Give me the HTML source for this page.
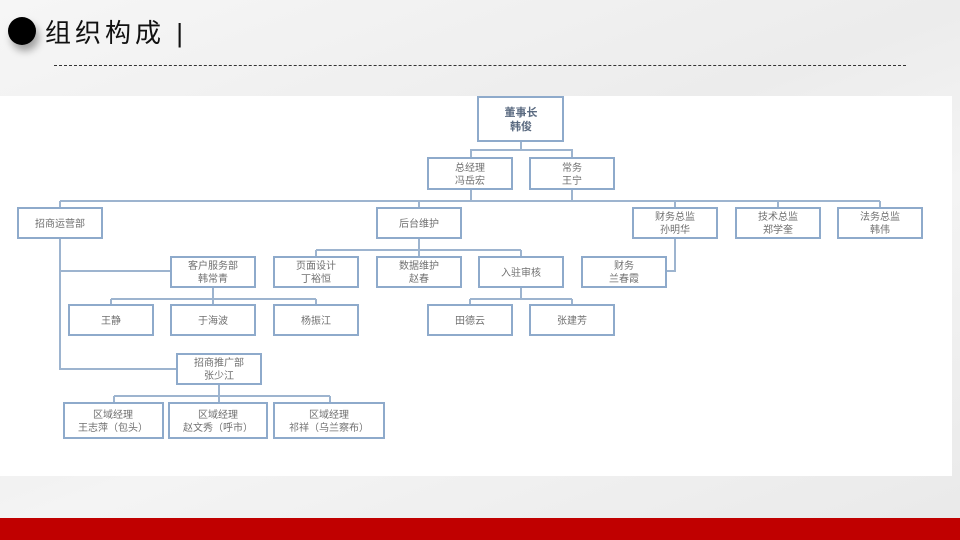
<!DOCTYPE html>
<html><head><meta charset="utf-8"><style>
html,body{margin:0;padding:0}
body{width:960px;height:540px;position:relative;overflow:hidden;background:linear-gradient(160deg,#f6f6f6 0%,#ececec 40%,#f4f4f4 60%,#e9e9e9 100%);font-family:"Liberation Sans","Noto Sans CJK SC",sans-serif}
</style></head><body>
<div style="position:absolute;left:8px;top:17px;width:28px;height:28px;border-radius:50%;background:#000;box-shadow:3px 6px 8px rgba(0,0,0,0.35)"></div>
<div style="position:absolute;left:45px;top:13px;font-size:26px;color:#111;letter-spacing:4px;font-family:'Liberation Sans','Noto Sans CJK SC',sans-serif">组织构成 <span style="font-weight:300">|</span></div>
<div style="position:absolute;left:54px;top:65px;width:852px;border-top:1px dashed #333"></div>
<div style="position:absolute;left:0;top:96px;width:952px;height:380px;background:#fff"></div>
<div style="position:absolute;left:0;top:518px;width:960px;height:22px;background:#c00000"></div>
<svg width="960" height="540" style="position:absolute;left:0;top:0" font-family="Liberation Sans, Noto Sans CJK SC, sans-serif">
<g stroke="#9db4cf" stroke-width="2" fill="none">
<path d="M521 141V150H471V158M521 150H572V158"/>
<path d="M471 189V201M572 189V201M60 201H880M60 201V208M419 201V208M675 201V208M778 201V208M880 201V208"/>
<path d="M60 238V369H177M60 271H171"/>
<path d="M419 238V250M316 250H521M316 250V257M419 250V257M521 250V257"/>
<path d="M675 238V271H666"/>
<path d="M213 287V299M111 299H316M111 299V305M213 299V305M316 299V305"/>
<path d="M521 287V299M470 299H572M470 299V305M572 299V305"/>
<path d="M219 384V396M114 396H330M114 396V403M219 396V403M330 396V403"/>
</g>
<g stroke="#8eaacb" stroke-width="2" fill="#fff">
<rect x="478" y="97" width="85" height="44"/>
<rect x="428" y="158" width="84" height="31"/><rect x="530" y="158" width="84" height="31"/>
<rect x="18" y="208" width="84" height="30"/><rect x="377" y="208" width="84" height="30"/>
<rect x="633" y="208" width="84" height="30"/><rect x="736" y="208" width="84" height="30"/><rect x="838" y="208" width="84" height="30"/>
<rect x="171" y="257" width="84" height="30"/><rect x="274" y="257" width="84" height="30"/><rect x="377" y="257" width="84" height="30"/><rect x="479" y="257" width="84" height="30"/><rect x="582" y="257" width="84" height="30"/>
<rect x="69" y="305" width="84" height="30"/><rect x="171" y="305" width="84" height="30"/><rect x="274" y="305" width="84" height="30"/>
<rect x="428" y="305" width="84" height="30"/><rect x="530" y="305" width="84" height="30"/>
<rect x="177" y="354" width="84" height="30"/>
<rect x="64" y="403" width="99" height="35"/><rect x="169" y="403" width="98" height="35"/><rect x="274" y="403" width="110" height="35"/>
</g>
<g fill="#707070" font-size="10" text-anchor="middle">
<text x="521" y="116" font-weight="bold" font-size="11" fill="#5a6a80">董事长</text><text x="521" y="130" font-weight="bold" font-size="11" fill="#5a6a80">韩俊</text>
<text x="470" y="171">总经理</text><text x="470" y="184">冯岳宏</text>
<text x="572" y="171">常务</text><text x="572" y="184">王宁</text>
<text x="60" y="227">招商运营部</text><text x="419" y="227">后台维护</text>
<text x="675" y="220">财务总监</text><text x="675" y="233">孙明华</text>
<text x="778" y="220">技术总监</text><text x="778" y="233">郑学奎</text>
<text x="880" y="220">法务总监</text><text x="880" y="233">韩伟</text>
<text x="213" y="269">客户服务部</text><text x="213" y="282">韩常青</text>
<text x="316" y="269">页面设计</text><text x="316" y="282">丁裕恒</text>
<text x="419" y="269">数据维护</text><text x="419" y="282">赵春</text>
<text x="521" y="276">入驻审核</text>
<text x="624" y="269">财务</text><text x="624" y="282">兰春霞</text>
<text x="111" y="324">王静</text><text x="213" y="324">于海波</text><text x="316" y="324">杨振江</text>
<text x="470" y="324">田德云</text><text x="572" y="324">张建芳</text>
<text x="219" y="366">招商推广部</text><text x="219" y="379">张少江</text>
<text x="113" y="418">区域经理</text><text x="113" y="431">王志萍（包头）</text>
<text x="218" y="418">区域经理</text><text x="218" y="431">赵文秀（呼市）</text>
<text x="329" y="418">区域经理</text><text x="329" y="431">祁祥（乌兰察布）</text>
</g>
</svg>
</body></html>
